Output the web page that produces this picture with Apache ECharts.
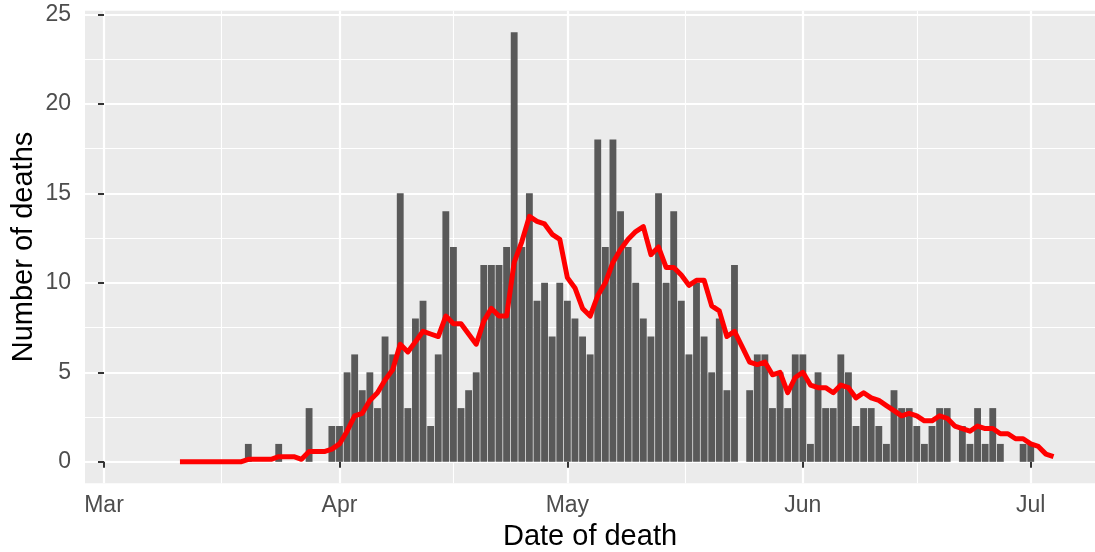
<!DOCTYPE html>
<html><head><meta charset="utf-8">
<script src="https://cdn.jsdelivr.net/npm/echarts@6/dist/echarts.min.js"></script>
<style>html,body{margin:0;padding:0;background:#fff}#c{width:1095px;height:552px}</style>
</head><body><div id="c"></div>
<script>
// ---- data ----
const firstDate = '2020-03-11';           // first day of the series (consecutive days follow)
const deaths = [
  0,0,0,0,0,0,0,0,0,1,0,0,0,1,0,0,0,3,0,0,2,                 // Mar 11-31
  2,5,6,4,5,3,7,6,15,3,8,9,2,6,14,12,3,4,5,11,11,11,12,24,12,15,9,10,7,10,   // Apr
  9,8,7,6,18,12,18,14,12,10,8,7,15,10,14,9,6,10,7,5,8,4,11,0,4,6,6,3,5,3,6,  // May
  6,1,5,3,3,6,5,2,3,3,2,1,4,3,3,2,1,2,3,3,0,2,1,3,1,3,1,0,0,1,              // Jun
  1,0,0,0                                                                     // Jul 1-4
];
const rolling7 = [
  0,0,0,0,0,0,0,0,0,0.14,0.14,0.14,0.14,0.29,0.29,0.29,0.14,0.57,0.57,0.57,0.71,
  1.0,1.71,2.57,2.71,3.43,3.86,4.57,5.14,6.57,6.14,6.71,7.29,7.14,7.0,8.14,7.71,7.71,7.14,6.57,7.86,8.57,8.14,8.14,11.14,12.29,13.71,13.43,13.29,12.71,12.43,
  10.29,9.71,8.57,8.14,9.29,10.0,11.14,11.86,12.43,12.86,13.14,11.57,12.0,10.86,10.86,10.43,9.86,10.14,10.14,8.71,8.43,7.0,7.29,6.43,5.57,5.43,5.57,4.86,5.0,3.86,4.71,
  5.0,4.29,4.14,4.14,3.86,4.29,4.14,3.57,3.86,3.57,3.43,3.14,2.86,2.57,2.71,2.57,2.29,2.29,2.57,2.43,2.0,1.86,1.71,2.0,1.86,1.86,1.57,1.57,1.29,1.29,
  1.0,0.86,0.43,0.29
];
const monthTickDates = ['2020-03-01','2020-04-01','2020-05-01','2020-06-01','2020-07-01'];
const monthTickLabels = ['Mar','Apr','May','Jun','Jul'];
const yTicks = [0,5,10,15,20,25];
const xTitle = 'Date of death';
const yTitle = 'Number of deaths';

// ---- helpers ----
const DAY = 86400000;
const origin = Date.parse(monthTickDates[0] + 'T00:00:00Z');
const toDay = s => Math.round((Date.parse(s + 'T00:00:00Z') - origin) / DAY);
const startDay = toDay(firstDate);
const barData = deaths.map((v, i) => [startDay + i, v]);
const lineData = rolling7.map((v, i) => [startDay + i, v]);
const majorX = monthTickDates.map(toDay);
const minorX = majorX.slice(1).map((v, i) => (v + majorX[i]) / 2);
const minorY = yTicks.slice(1).map((v, i) => (v + yTicks[i]) / 2);
const labelByDay = {};
majorX.forEach((d, i) => { labelByDay[d] = monthTickLabels[i]; });

const W = 1095, gridLeft = 85, gridRight = 0, gridTop = 10.7, gridBottom = 68.7;
const xMin = -2.5, xMax = 130.46, yMin = -1.2, yMax = 25.2;
const pxPerDay = (W - gridLeft - gridRight) / (xMax - xMin);
const FONT = "'Liberation Sans', Arial, sans-serif";

const chart = echarts.init(document.getElementById('c'), null, {renderer: 'canvas'});
chart.setOption({
  animation: false,
  backgroundColor: '#ffffff',
  grid: {left: gridLeft, right: gridRight, top: gridTop, bottom: gridBottom,
         show: true, backgroundColor: '#EBEBEB', borderWidth: 0, containLabel: false, outerBoundsMode: 'none'},
  xAxis: [{
    type: 'value', min: xMin, max: xMax, position: 'bottom',
    axisLine: {show: false},
    axisTick: {show: true, customValues: majorX, length: 6, lineStyle: {color: '#333333', width: 2}},
    axisLabel: {customValues: majorX, formatter: v => labelByDay[Math.round(v)] || '',
                color: '#4D4D4D', fontSize: 23, fontFamily: FONT, margin: 11},
    splitLine: {show: true, lineStyle: {color: '#ffffff', width: 2.2}},
    name: xTitle, nameLocation: 'middle', nameGap: 39, nameMoveOverlap: false,
    nameTextStyle: {color: '#000000', fontSize: 29, fontFamily: FONT}
  }, {
    type: 'value', min: xMin, max: xMax, position: 'top',
    axisLine: {show: false}, axisTick: {show: false, customValues: minorX},
    axisLabel: {show: false, customValues: minorX},
    splitLine: {show: true, lineStyle: {color: '#ffffff', width: 1.1}}
  }],
  yAxis: [{
    type: 'value', min: yMin, max: yMax, position: 'left',
    axisLine: {show: false},
    axisTick: {show: true, customValues: yTicks, length: 6, lineStyle: {color: '#333333', width: 2}},
    axisLabel: {customValues: yTicks, color: '#4D4D4D', fontSize: 23, fontFamily: FONT, margin: 14},
    splitLine: {show: true, lineStyle: {color: '#ffffff', width: 2.2}},
    name: yTitle, nameLocation: 'middle', nameGap: 47, nameMoveOverlap: false,
    nameTextStyle: {color: '#000000', fontSize: 29, fontFamily: FONT}
  }, {
    type: 'value', min: yMin, max: yMax, position: 'right',
    axisLine: {show: false}, axisTick: {show: false, customValues: minorY},
    axisLabel: {show: false, customValues: minorY},
    splitLine: {show: true, lineStyle: {color: '#ffffff', width: 1.1}}
  }],
  series: [{
    type: 'bar', xAxisIndex: 0, yAxisIndex: 0, data: barData,
    barWidth: pxPerDay * 0.9, itemStyle: {color: '#595959'}, z: 2, silent: true
  }, {
    type: 'line', xAxisIndex: 0, yAxisIndex: 0, data: lineData,
    showSymbol: false, symbol: 'none',
    lineStyle: {color: '#FF0000', width: 5, cap: 'butt', join: 'round'}, z: 3, silent: true
  }]
});
</script></body></html>
